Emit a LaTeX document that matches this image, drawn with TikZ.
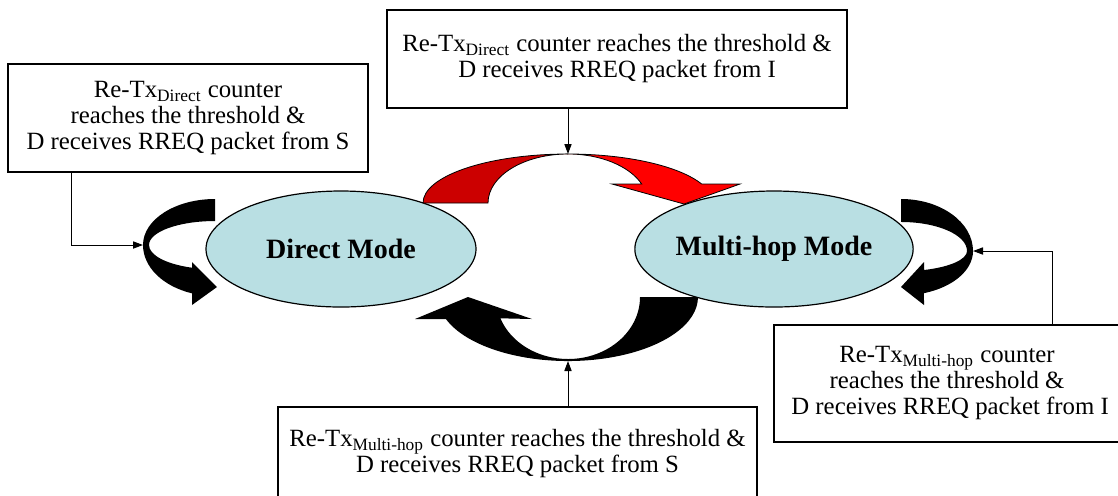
\documentclass[tikz,border=0pt]{standalone}
\usepackage{fontspec}
\setmainfont{Liberation Serif}
\usetikzlibrary{arrows.meta,shapes.geometric}

\definecolor{modeblue}{RGB}{185,223,227}
\definecolor{darkred}{RGB}{204,0,0}
\newcommand{\retx}[1]{Re-Tx\textsubscript{#1}}

\begin{document}
\begin{tikzpicture}[x=0.5pt, y=0.5pt,
  cond/.style={draw, line width=0.6pt, align=center, inner sep=0pt,
    font=\fontsize{12.4}{13}\selectfont},
  mode/.style={ellipse, draw, line width=0.6pt, fill=modeblue, inner sep=0pt,
    minimum width=135pt, minimum height=58pt,
    font=\fontsize{14}{16}\selectfont\bfseries},
  conn/.style={line width=0.5pt, -{Triangle[length=5pt,width=3.6pt]}}]
  \useasboundingbox (0,0) rectangle (1118,-495);

  % modes
  \node[mode] (direct) at (341,-249) {Direct Mode};
  \node[mode] (multihop) at (774,-249) {Multi-hop Mode};

  % red arrow, direct -> multi-hop
  \fill[darkred, draw=black, line width=0.4pt] (423,-203)
    arc[start angle=180, end angle=90, x radius=145, y radius=49]
    arc[start angle=90, end angle=180, x radius=80, y radius=49] -- cycle;
  \fill[red, draw=black, line width=0.4pt] (568,-154)
    arc[start angle=90, end angle=22.8, x radius=145, y radius=49]
    -- (740,-184) -- (684,-204) -- (612,-184) -- (641.7,-184)
    arc[start angle=22.8, end angle=90, x radius=80, y radius=49] -- cycle;
  \coordinate (toptip) at (568,-154);

  % black arrow, multi-hop -> direct
  \fill (698,-297) -- (640,-297)
    arc[start angle=0, end angle=-90, x radius=72, y radius=62]
    arc[start angle=-90, end angle=-159.9, x radius=72, y radius=62]
    -- (532,-319) -- (468,-297) -- (415,-319) -- (445.9,-319)
    arc[start angle=-159.9, end angle=0, x radius=130, y radius=64] -- cycle;
  \coordinate (bottip) at (568,-361);

  % loop on direct mode
  \fill (215,-199)
    arc[start angle=90, end angle=180, x radius=72, y radius=46]
    arc[start angle=180, end angle=251.4, x radius=72, y radius=51]
    -- (192,-305) -- (217,-287) -- (192,-262) -- (192,-267.7)
    arc[start angle=249.6, end angle=180, x radius=66, y radius=24.2]
    arc[start angle=180, end angle=90, x radius=66, y radius=24] -- cycle;
  \coordinate (lefttip) at (143,-245);

  % loop on multi-hop mode
  \fill (901,-199)
    arc[start angle=90, end angle=0, x radius=72, y radius=52]
    arc[start angle=0, end angle=-71.4, x radius=72, y radius=44.5]
    -- (924,-305) -- (901,-287) -- (924,-262) -- (924,-270)
    arc[start angle=-69.6, end angle=0, x radius=66, y radius=20.3]
    arc[start angle=0, end angle=90, x radius=66, y radius=29] -- cycle;
  \coordinate (righttip) at (973,-251);

  % conditions
  \node[cond, minimum width=180pt, minimum height=54pt] (leftbox) at (188,-118)
    {\retx{Direct} counter\\ reaches the threshold \&\\ D receives RREQ packet from S};
  \node[cond, minimum width=230pt, minimum height=49pt] (topbox) at (617,-59)
    {\retx{Direct} counter reaches the threshold \&\\ D receives RREQ packet from I};
  \node[cond, minimum width=173pt, minimum height=58.5pt] (rightbox) at (947,-383.5)
    {\retx{Multi-hop} counter\\ reaches the threshold \&\\ \ D receives RREQ packet from I};
  \node[cond, minimum width=239.5pt, minimum height=46.5pt] (botbox) at (517.5,-453.5)
    {\retx{Multi-hop} counter reaches the threshold \&\\ D receives RREQ packet from S};

  % connectors
  \draw[conn] ([xshift=32pt]leftbox.south west) |- (lefttip);
  \draw[conn] (topbox.south -| toptip) -- (toptip);
  \draw[conn] ([xshift=139.5pt]rightbox.north west) |- (righttip);
  \draw[conn] (botbox.north -| bottip) -- (bottip);
\end{tikzpicture}
\end{document}
